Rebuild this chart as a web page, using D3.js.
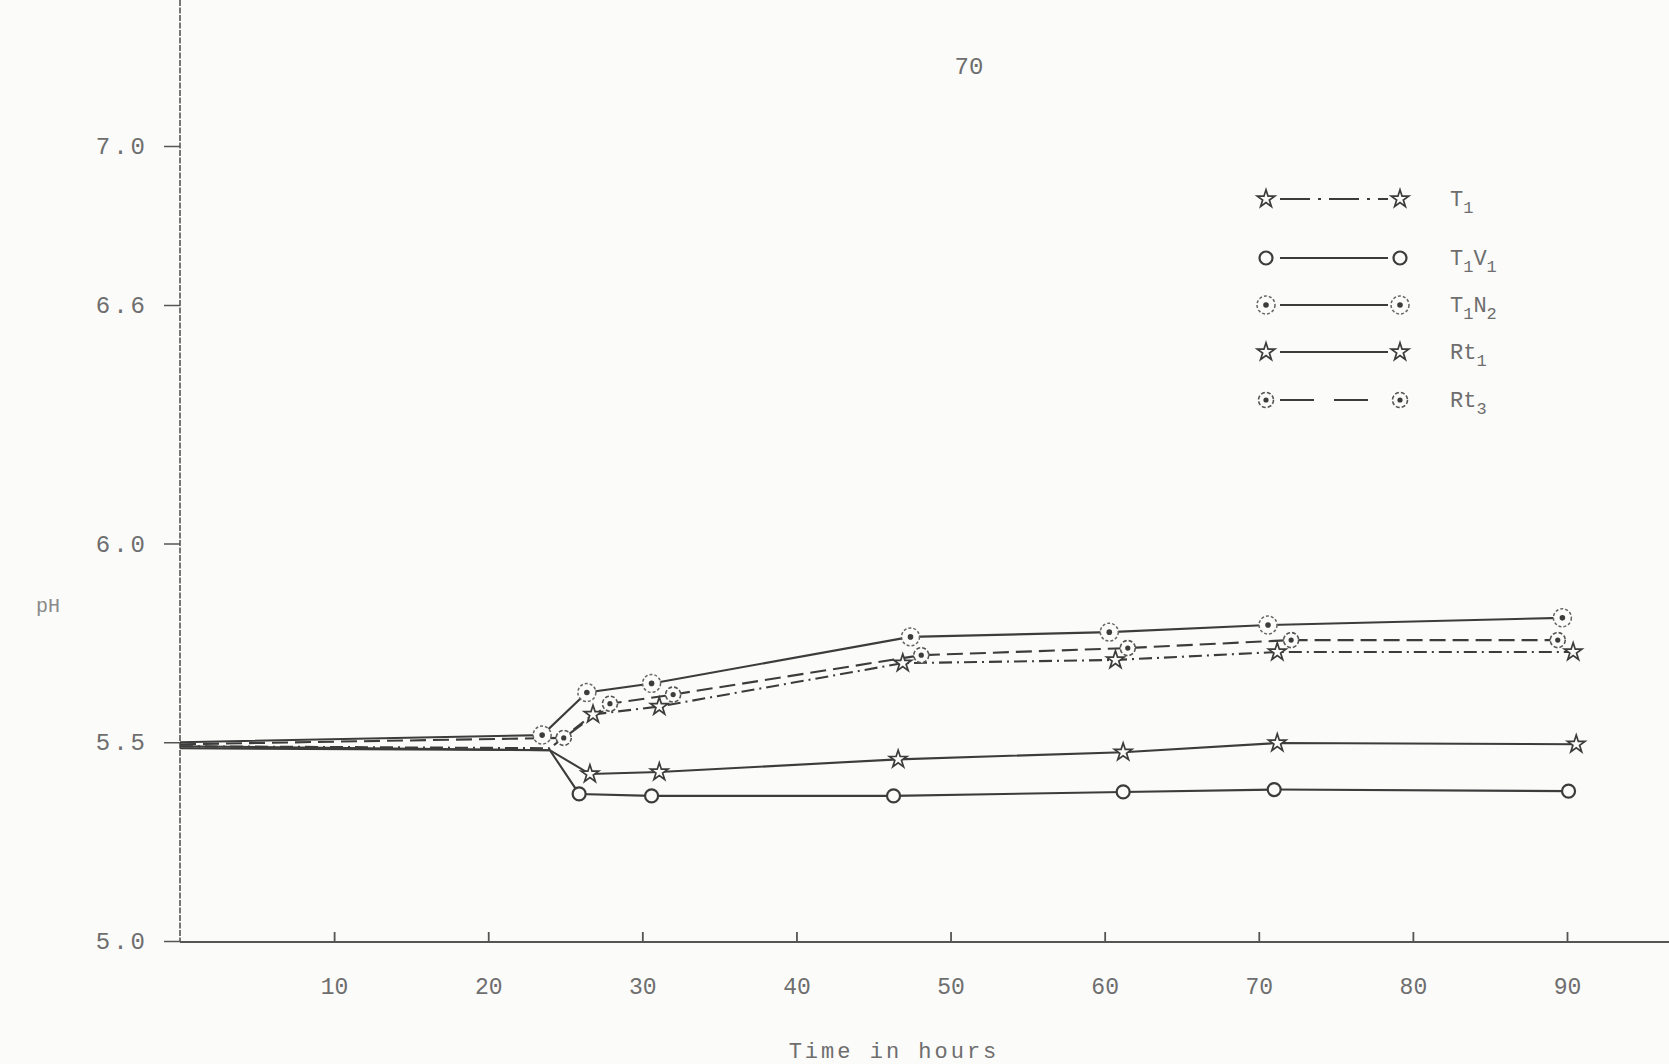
<!DOCTYPE html>
<html>
<head>
<meta charset="utf-8">
<script src="https://cdn.jsdelivr.net/npm/d3@7"></script>
<style>
  html, body { margin: 0; padding: 0; background: #fbfbfa; }
  svg { display: block; }
  text { font-family: "Liberation Mono", "DejaVu Sans Mono", monospace; fill: #6e6e6e; }
</style>
</head>
<body>
<svg id="chart" width="1669" height="1064"></svg>
<script>
// ---- data ----
const hoursT1   = [0, 24.0, 26.8, 31.1, 46.9, 60.7, 71.2, 90.4];
const pHT1      = [5.49, 5.485, 5.57, 5.59, 5.699, 5.707, 5.727, 5.727];

const hoursT1V1 = [0, 24.0, 25.9, 30.6, 46.3, 61.2, 71.0, 90.1];
const pHT1V1    = [5.49, 5.48, 5.37, 5.365, 5.365, 5.375, 5.381, 5.377];

const hoursT1N2 = [0, 23.5, 26.4, 30.6, 47.4, 60.3, 70.6, 89.7];
const pHT1N2    = [5.50, 5.518, 5.625, 5.648, 5.765, 5.777, 5.795, 5.813];

const hoursRt1  = [0, 24.0, 26.6, 31.1, 46.6, 61.2, 71.2, 90.6];
const pHRt1     = [5.485, 5.48, 5.42, 5.425, 5.457, 5.475, 5.498, 5.495];

const hoursRt3  = [0, 24.9, 27.9, 32.0, 48.1, 61.5, 72.1, 89.4];
const pHRt3     = [5.495, 5.511, 5.597, 5.62, 5.719, 5.737, 5.757, 5.757];

const xTicks = [10, 20, 30, 40, 50, 60, 70, 80, 90];
const yTicks = [5.0, 5.5, 6.0, 6.6, 7.0];
const yTickLabels = ["5.0", "5.5", "6.0", "6.6", "7.0"];

const seriesNames = ["T1", "T1V1", "T1N2", "Rt1", "Rt3"];

// ---- layout ----
const svg = d3.select("#chart");
const ink = "#3c3c3c";
const x = d3.scaleLinear().domain([0, 90]).range([180, 1567]);
const y = d3.scaleLinear().domain([5, 7]).range([941, 146]);

const styles = {
  T1:   { dash: "13,5,2,5", marker: "star",  firstMarked: 2 },
  T1V1: { dash: null,        marker: "circle", firstMarked: 2 },
  T1N2: { dash: null,        marker: "dotring", firstMarked: 1 },
  Rt1:  { dash: null,        marker: "star",  firstMarked: 2 },
  Rt3:  { dash: "16,7",      marker: "ring",  firstMarked: 1 }
};

const series = [
  { name: "T1",   h: hoursT1,   v: pHT1 },
  { name: "T1V1", h: hoursT1V1, v: pHT1V1 },
  { name: "T1N2", h: hoursT1N2, v: pHT1N2 },
  { name: "Rt1",  h: hoursRt1,  v: pHRt1 },
  { name: "Rt3",  h: hoursRt3,  v: pHRt3 }
];

// ---- axes ----
svg.append("line")
  .attr("x1", x(0)).attr("x2", x(0)).attr("y1", 0).attr("y2", y(5))
  .attr("stroke", "#555").attr("stroke-width", 1.6).attr("stroke-dasharray", "6,1.5");

const yAxis = d3.axisLeft(y).tickValues(yTicks)
  .tickFormat((d, i) => yTickLabels[i]).tickSize(16).tickPadding(16);
const gy = svg.append("g").attr("transform", `translate(${x(0)},0)`).call(yAxis);
gy.select(".domain").remove();
gy.selectAll(".tick line").attr("stroke", "#555").attr("stroke-width", 1.5);
gy.selectAll(".tick text").style("font-size", "24px").style("letter-spacing", "3px").attr("fill", "#6e6e6e");

svg.append("line")
  .attr("x1", x(0)).attr("x2", 1669).attr("y1", y(5) + 1).attr("y2", y(5) + 1)
  .attr("stroke", "#555").attr("stroke-width", 1.8);

const xAxis = d3.axisBottom(x).tickValues(xTicks).tickSize(-10).tickPadding(36);
const gx = svg.append("g").attr("transform", `translate(0,${y(5) + 1})`).call(xAxis);
gx.select(".domain").remove();
gx.selectAll(".tick line").attr("stroke", "#555").attr("stroke-width", 1.8);
gx.selectAll(".tick text").style("font-size", "23px").attr("fill", "#6e6e6e");

// titles
svg.append("text").attr("x", 894).attr("y", 1058).attr("text-anchor", "middle")
  .style("font-size", "22px").style("letter-spacing", "3px").text("Time in hours");
svg.append("text").attr("x", 48).attr("y", 612).attr("text-anchor", "middle")
  .style("font-size", "20px").style("fill", "#8a8a8a").text("pH");
svg.append("text").attr("x", 969).attr("y", 74).attr("text-anchor", "middle")
  .style("font-size", "24px").text("70");

// ---- markers ----
function drawMarker(g, kind, cx, cy) {
  if (kind === "star") {
    g.append("path").attr("d", d3.symbol(d3.symbolStar, 95)())
      .attr("transform", `translate(${cx},${cy})`)
      .attr("fill", "#fbfbfa").attr("stroke", ink).attr("stroke-width", 1.7);
  } else if (kind === "circle") {
    g.append("circle").attr("cx", cx).attr("cy", cy).attr("r", 6.5)
      .attr("fill", "#fbfbfa").attr("stroke", ink).attr("stroke-width", 2.2);
  } else if (kind === "dotring") {
    g.append("circle").attr("cx", cx).attr("cy", cy).attr("r", 9)
      .attr("fill", "#fbfbfa").attr("stroke", "#666").attr("stroke-width", 1.5)
      .attr("stroke-dasharray", "3,2");
    g.append("circle").attr("cx", cx).attr("cy", cy).attr("r", 2.8).attr("fill", ink);
  } else if (kind === "ring") {
    g.append("circle").attr("cx", cx).attr("cy", cy).attr("r", 7.5)
      .attr("fill", "#fbfbfa").attr("stroke", "#555").attr("stroke-width", 1.6)
      .attr("stroke-dasharray", "4,2");
    g.append("circle").attr("cx", cx).attr("cy", cy).attr("r", 2.6).attr("fill", ink);
  }
}

// ---- lines ----
const line = d3.line().x(d => x(d[0])).y(d => y(d[1]));
const gLines = svg.append("g");
series.forEach(s => {
  const pts = s.h.map((h, i) => [h, s.v[i]]);
  const st = styles[s.name];
  gLines.append("path").datum(pts).attr("d", line)
    .attr("fill", "none").attr("stroke", ink).attr("stroke-width", 2.1)
    .attr("stroke-dasharray", st.dash);
});
const gMarks = svg.append("g");
series.forEach(s => {
  const st = styles[s.name];
  s.h.forEach((h, i) => {
    if (i >= st.firstMarked) drawMarker(gMarks, st.marker, x(h), y(s.v[i]));
  });
});

// ---- legend ----
const legendRows = [199, 258, 305, 352, 400];
const legendLabels = {
  T1:   [["T", false], ["1", true]],
  T1V1: [["T", false], ["1", true], ["V", false], ["1", true]],
  T1N2: [["T", false], ["1", true], ["N", false], ["2", true]],
  Rt1:  [["Rt", false], ["1", true]],
  Rt3:  [["Rt", false], ["3", true]]
};
const gLeg = svg.append("g");
seriesNames.forEach((name, i) => {
  const ly = legendRows[i];
  const st = styles[name];
  gLeg.append("line").attr("x1", 1280).attr("x2", 1388).attr("y1", ly).attr("y2", ly)
    .attr("stroke", ink).attr("stroke-width", 2.1)
    .attr("stroke-dasharray", st.dash ? (name === "Rt3" ? "34,20" : "30,8,3,8") : null);
  drawMarker(gLeg, st.marker, 1266, ly);
  drawMarker(gLeg, st.marker, 1400, ly);
  const t = gLeg.append("text").attr("x", 1450).attr("y", ly + 7).style("font-size", "22px");
  legendLabels[name].forEach(([txt, sub], j) => {
    const ts = t.append("tspan").text(txt);
    if (sub) ts.attr("dy", 7).style("font-size", "17px");
    else ts.attr("dy", j > 0 ? -7 : 0);
  });
});
</script>
</body>
</html>
